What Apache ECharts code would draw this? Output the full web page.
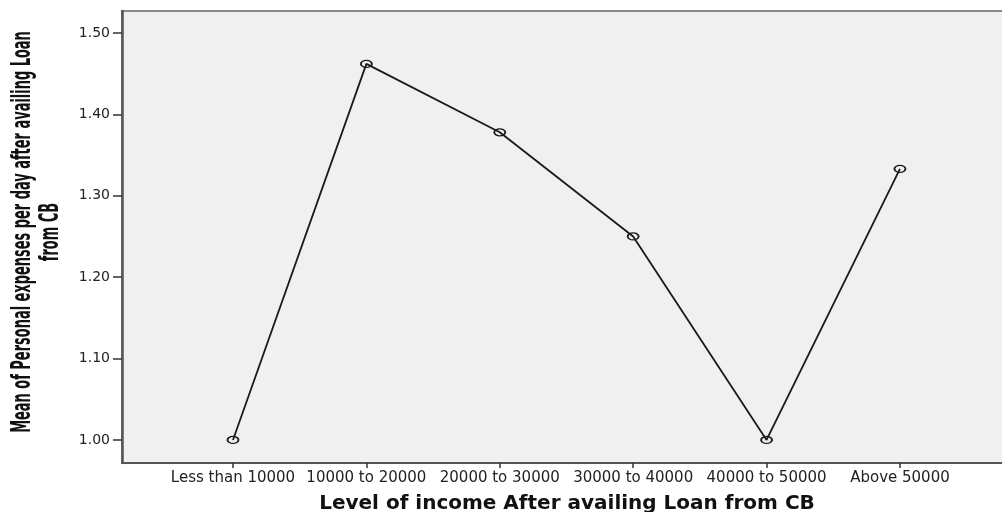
<!DOCTYPE html>
<html>
<head>
<meta charset="utf-8">
<script src="https://cdn.jsdelivr.net/npm/echarts@6/dist/echarts.min.js"></script>
<style>
  html, body { margin: 0; padding: 0; background: #ffffff; }
  #chart { width: 1002px; height: 512px; }
</style>
</head>
<body>
<div id="chart"></div>
<script>
// income groups on the x axis
const categories = ['Less than 10000', '10000 to 20000', '20000 to 30000', '30000 to 40000', '40000 to 50000', 'Above 50000'];
// mean of personal expenses per day
const meanExpenses = [1.00, 1.462, 1.378, 1.25, 1.00, 1.333];
// tick labels
const yTicks = [1.00, 1.10, 1.20, 1.30, 1.40, 1.50];
const xTicks = [0, 1, 2, 3, 4, 5];
const yTitle = 'Mean of Personal expenses per day after availing Loan\nfrom CB';

let myChart = echarts.init(document.getElementById('chart'));
myChart.setOption({
    animation: false,
    grid: [{
        left: 122,
        top: 11,
        width: 890,
        height: 452,
        outerBoundsMode: 'none',
        show: true,
        backgroundColor: '#f0f0f0',
        borderColor: '#8a8a8a',
        borderWidth: 2
    }],
    // y title is squeezed along its length like the source picture
    graphic: [{
        type: 'text',
        x: 37,
        y: 232,
        rotation: Math.PI / 2,
        scaleX: 0.72,
        scaleY: 1.3,
        style: {
            text: yTitle,
            fontFamily: 'DejaVu Sans Condensed',
            fontWeight: 'bold',
            fontSize: 20,
            lineHeight: 21.5,
            align: 'center',
            verticalAlign: 'middle',
            textAlign: 'center',
            textVerticalAlign: 'middle',
            fill: '#111'
        }
    }],
    xAxis: [{
        type: 'value',
        min: -0.832,
        max: 5.84,
        name: 'Level of income After availing Loan from CB',
        nameLocation: 'middle',
        nameGap: 31,
        nameTextStyle: {
            fontFamily: 'DejaVu Sans',
            fontWeight: 'bold',
            fontSize: 20,
            color: '#111'
        },
        axisLine: { show: true, onZero: false, lineStyle: { color: '#555', width: 2 } },
        axisTick: { show: true, length: 5, customValues: xTicks, lineStyle: { color: '#333', width: 1.5 } },
        axisLabel: {
            customValues: xTicks,
            margin: 8,
            fontFamily: 'DejaVu Sans',
            fontSize: 15,
            color: '#222',
            formatter: function (v) { return categories[Math.round(v)]; }
        },
        splitLine: { show: false }
    }],
    yAxis: [{
        type: 'value',
        min: 0.9717,
        max: 1.527,
        axisLine: { show: true, onZero: false, lineStyle: { color: '#555', width: 2.5 } },
        axisTick: { show: true, length: 9, customValues: yTicks, lineStyle: { color: '#333', width: 1.5 } },
        axisLabel: {
            customValues: yTicks,
            margin: 12,
            fontFamily: 'DejaVu Sans',
            fontSize: 14,
            color: '#222',
            formatter: function (v) { return v.toFixed(2); }
        },
        splitLine: { show: false }
    }],
    series: [{
        type: 'line',
        data: meanExpenses.map(function (v, i) { return [i, v]; }),
        symbol: 'circle',
        symbolSize: [11, 7],
        lineStyle: { color: '#1a1a1a', width: 1.8 },
        itemStyle: { color: 'rgba(0,0,0,0)', borderColor: '#1a1a1a', borderWidth: 1.5 }
    }]
});
</script>
</body>
</html>
